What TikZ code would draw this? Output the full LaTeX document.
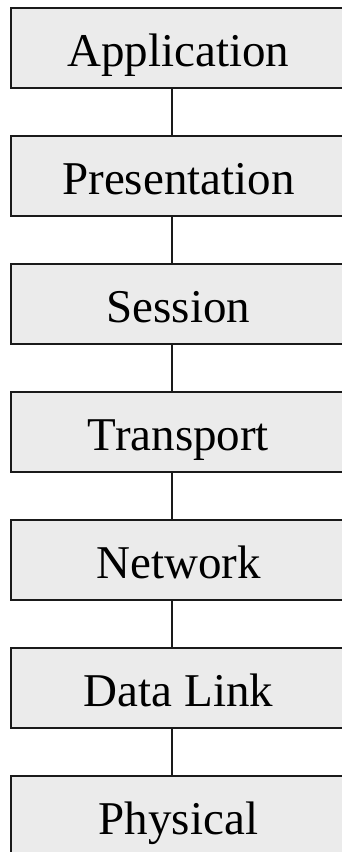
\documentclass[tikz,border=0pt]{standalone}
\usepackage{fontspec}
\setmainfont{Liberation Serif}
\definecolor{layerfill}{HTML}{EBEBEB}
\definecolor{layerline}{HTML}{1A1A1A}
\begin{document}
\begin{tikzpicture}[x=1pt,y=1pt,
  layerbox/.style={draw=layerline, line width=1.5pt, fill=layerfill, rectangle,
    minimum width=335pt, minimum height=80pt, inner sep=0pt, outer sep=0pt},
  layertext/.style={anchor=base, inner sep=0pt, font=\fontsize{47}{47}\selectfont},
  link/.style={draw=layerline, line width=1.2pt}]
\useasboundingbox (0,0) rectangle (341,-852);
\coordinate (axis) at (172,0);
\foreach \name/\txt [count=\i from 0] in {app/Application,pres/Presentation,sess/Session,trans/Transport,net/Network,dl/Data Link,phys/Physical}{
  \pgfmathsetmacro{\top}{-8-128*\i}
  \node[layerbox] (\name) at (178.5,\top-40) {};
  \node[layertext] (\name-t) at (178.5,\top-58.7) {\txt};
}
\foreach \a/\b in {app/pres,pres/sess,sess/trans,trans/net,net/dl,dl/phys}{
  \draw[link] (\a.south -| axis) -- (\b.north -| axis);
}
\end{tikzpicture}
\end{document}
